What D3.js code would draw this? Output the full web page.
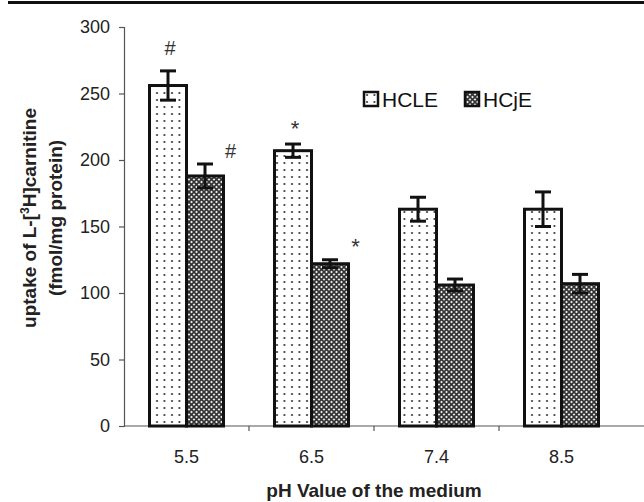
<!DOCTYPE html>
<html>
<head>
<meta charset="utf-8">
<script src="https://cdn.jsdelivr.net/npm/d3@7"></script>
<style>
  body { margin: 0; background: #fff; }
  svg { font-family: "Liberation Sans", Arial, sans-serif; }
</style>
</head>
<body>
<svg id="chart"></svg>
<script>
const categories = ["5.5", "6.5", "7.4", "8.5"];
const seriesNames = ["HCLE", "HCjE"];
const hcleValues = [256, 207, 163, 163];
const hcleErrors = [11, 5, 9, 13];
const hcjeValues = [188, 122, 106, 107];
const hcjeErrors = [9, 3, 4.5, 7];
const hcleMarks = ["#", "*", "", ""];
const hcjeMarks = ["#", "*", "", ""];
const yTicks = [0, 50, 100, 150, 200, 250, 300];

const width = 644, height = 502;
const margin = {top: 27, right: 20, bottom: 76, left: 124};
const innerW = width - margin.left - margin.right;
const innerH = height - margin.top - margin.bottom;

const svg = d3.select("#chart")
    .attr("width", width)
    .attr("height", height);

// patterns
const defs = svg.append("defs");
const dots = defs.append("pattern")
    .attr("id", "dots")
    .attr("patternUnits", "userSpaceOnUse")
    .attr("width", 7.5).attr("height", 7);
dots.append("rect").attr("width", 7.5).attr("height", 7).attr("fill", "#fff");
dots.append("circle").attr("cx", 3).attr("cy", 3).attr("r", 1).attr("fill", "#222");

const hatch = defs.append("pattern")
    .attr("id", "hatch")
    .attr("patternUnits", "userSpaceOnUse")
    .attr("width", 5).attr("height", 5);
hatch.append("rect").attr("width", 5).attr("height", 5).attr("fill", "#eee");
hatch.append("path")
    .attr("d", "M0,0L5,5M5,0L0,5")
    .attr("stroke", "#333").attr("stroke-width", 1.6);

// top rule
svg.append("rect").attr("x", 8).attr("y", 1).attr("width", width - 8).attr("height", 3).attr("fill", "#111");

const g = svg.append("g")
    .attr("transform", "translate(" + margin.left + "," + margin.top + ")");

const xScale = d3.scaleBand()
    .domain(categories)
    .range([0, 500]);

const xSub = d3.scaleBand()
    .domain(seriesNames)
    .range([0, 74]);

const yScale = d3.scaleLinear()
    .domain([0, 300])
    .range([innerH, 0]);

// y axis
const yAxis = g.append("g")
    .call(d3.axisLeft(yScale).tickValues(yTicks).tickSize(5).tickPadding(9));
yAxis.select(".domain").attr("stroke", "#555").attr("stroke-width", 1.2);
yAxis.selectAll(".tick line").attr("stroke", "#555").attr("stroke-width", 1.2);
yAxis.selectAll(".tick text").attr("font-size", "18px").attr("fill", "#222");

// x axis
const xAxis = g.append("g")
    .attr("transform", "translate(0," + innerH + ")")
    .call(d3.axisBottom(xScale).tickSize(0).tickPadding(24));
xAxis.select(".domain").remove();
xAxis.append("line")
    .attr("x1", 0).attr("x2", width - margin.left)
    .attr("stroke", "#555").attr("stroke-width", 1.2);
xAxis.selectAll(".sep")
    .data(categories.slice(1))
    .enter().append("line")
    .attr("class", "sep")
    .attr("x1", (d) => xScale(d)).attr("x2", (d) => xScale(d))
    .attr("y1", 0).attr("y2", 5)
    .attr("stroke", "#555").attr("stroke-width", 1.2);
xAxis.selectAll(".tick text").attr("font-size", "18px").attr("fill", "#222");

// bars
const data = [];
categories.forEach((c, i) => {
    data.push({cat: c, series: "HCLE", value: hcleValues[i], err: hcleErrors[i], mark: hcleMarks[i], fill: "url(#dots)"});
    data.push({cat: c, series: "HCjE", value: hcjeValues[i], err: hcjeErrors[i], mark: hcjeMarks[i], fill: "url(#hatch)"});
});

const groupOffset = (xScale.bandwidth() - 74) / 2;
const barX = (d) => xScale(d.cat) + groupOffset + xSub(d.series);

g.selectAll("rect.bar")
    .data(data)
    .enter().append("rect")
    .attr("class", "bar")
    .attr("x", barX)
    .attr("y", (d) => yScale(d.value))
    .attr("width", xSub.bandwidth())
    .attr("height", (d) => innerH - yScale(d.value))
    .attr("fill", (d) => d.fill)
    .attr("stroke", "#111")
    .attr("stroke-width", 3);

// error bars
const err = g.selectAll("g.err")
    .data(data)
    .enter().append("g")
    .attr("class", "err")
    .attr("stroke", "#111")
    .attr("stroke-width", 3);
err.append("line")
    .attr("x1", (d) => barX(d) + xSub.bandwidth() / 2)
    .attr("x2", (d) => barX(d) + xSub.bandwidth() / 2)
    .attr("y1", (d) => yScale(d.value + d.err))
    .attr("y2", (d) => yScale(d.value - d.err));
err.append("line")
    .attr("x1", (d) => barX(d) + xSub.bandwidth() / 2 - 8)
    .attr("x2", (d) => barX(d) + xSub.bandwidth() / 2 + 8)
    .attr("y1", (d) => yScale(d.value + d.err))
    .attr("y2", (d) => yScale(d.value + d.err));
err.append("line")
    .attr("x1", (d) => barX(d) + xSub.bandwidth() / 2 - 8)
    .attr("x2", (d) => barX(d) + xSub.bandwidth() / 2 + 8)
    .attr("y1", (d) => yScale(d.value - d.err))
    .attr("y2", (d) => yScale(d.value - d.err));

// significance marks
g.selectAll("text.mark")
    .data(data.filter((d) => d.mark))
    .enter().append("text")
    .attr("class", "mark")
    .attr("x", (d) => d.series === "HCLE" ? barX(d) + xSub.bandwidth() / 2 + 2 : barX(d) + xSub.bandwidth() + 7)
    .attr("y", (d) => d.series === "HCLE" ? yScale(d.value + d.err) - (d.mark === "#" ? 16 : 8) : yScale(d.value + d.err) - 6)
    .attr("text-anchor", "middle")
    .attr("font-size", (d) => d.mark === "#" ? "20px" : "22px")
    .attr("fill", "#333")
    .text((d) => d.mark);

// legend
const legend = svg.append("g").attr("transform", "translate(364,92)");
const legendItems = legend.selectAll("g")
    .data(seriesNames)
    .enter().append("g")
    .attr("transform", (d, i) => "translate(" + (i * 101) + ",0)");
legendItems.append("rect")
    .attr("width", 14).attr("height", 14)
    .attr("fill", (d, i) => i === 0 ? "url(#dots)" : "url(#hatch)")
    .attr("stroke", "#111").attr("stroke-width", 2.5);
legendItems.append("text")
    .attr("x", 18).attr("y", 15)
    .attr("font-size", "21px")
    .attr("fill", "#111")
    .text((d) => d);

// axis titles
svg.append("text")
    .attr("x", margin.left + 250)
    .attr("y", 497)
    .attr("text-anchor", "middle")
    .attr("font-size", "19px")
    .attr("font-weight", "bold")
    .attr("fill", "#222")
    .text("pH Value of the medium");

const yTitle = svg.append("text")
    .attr("transform", "translate(36,218) rotate(-90)")
    .attr("text-anchor", "middle")
    .attr("font-size", "19px")
    .attr("font-weight", "bold")
    .attr("fill", "#222");
yTitle.append("tspan").attr("x", 0).attr("y", 0).text("uptake of L-[");
yTitle.append("tspan").attr("font-size", "12px").attr("dy", -7).text("3");
yTitle.append("tspan").attr("dy", 7).text("H]carnitine");
yTitle.append("tspan").attr("x", 0).attr("y", 26).text("(fmol/mg protein)");
</script>
</body>
</html>
